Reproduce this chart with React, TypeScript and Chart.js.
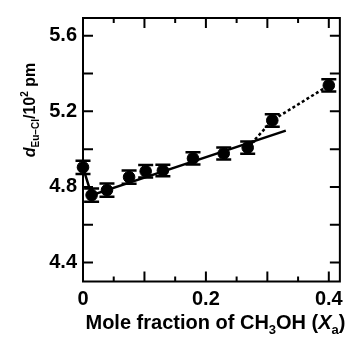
import React, { useEffect, useRef } from "react";
import { Chart, registerables } from "chart.js";

Chart.register(...registerables);

// ---- data ----
const xValues = [0, 0.014, 0.039, 0.075, 0.102, 0.13, 0.179, 0.229, 0.268, 0.308, 0.4];
const yValues = [4.904, 4.757, 4.783, 4.852, 4.883, 4.887, 4.951, 4.977, 5.008, 5.152, 5.337];
const yErrors = [0.035, 0.035, 0.035, 0.035, 0.033, 0.03, 0.032, 0.032, 0.032, 0.033, 0.032];

const solidX = [0, 0.014, 0.33];
const solidY = [4.904, 4.757, 5.098];
const dottedX = [0.268, 0.308, 0.4];
const dottedY = [5.008, 5.152, 5.337];

const xTickValues = [0, 0.05, 0.1, 0.15, 0.2, 0.25, 0.3, 0.35, 0.4];
const xTickLabels = [0, 0.2, 0.4];
const yTickValues = [4.4, 4.6, 4.8, 5.0, 5.2, 5.4, 5.6];
const yTickLabels = [4.4, 4.8, 5.2, 5.6];

const FONT = "'Liberation Sans', Arial, Helvetica, sans-serif";

type Seg = { t: string; size: number; italic?: boolean; shift?: number };

function fontOf(s: Seg) {
  return `${s.italic ? "italic " : ""}bold ${s.size}px ${FONT}`;
}

function drawRich(ctx: CanvasRenderingContext2D, segs: Seg[], cx: number, by: number) {
  const widths = segs.map((s) => {
    ctx.font = fontOf(s);
    return ctx.measureText(s.t).width;
  });
  const total = widths.reduce((a, b) => a + b, 0);
  let x = cx - total / 2;
  segs.forEach((s, i) => {
    ctx.font = fontOf(s);
    ctx.fillText(s.t, x, by + (s.shift || 0));
    x += widths[i];
  });
}

const decorPlugin = {
  id: "decor",
  afterDatasetsDraw(chart: any) {
    const ctx: CanvasRenderingContext2D = chart.ctx;
    const xs = chart.scales.x;
    const ys = chart.scales.y;
    const { left, right, top, bottom } = chart.chartArea;
    ctx.save();
    ctx.strokeStyle = "#000";
    ctx.fillStyle = "#000";
    // error bars
    xValues.forEach((xv, i) => {
      const px = xs.getPixelForValue(xv);
      const pHi = ys.getPixelForValue(yValues[i] + yErrors[i]);
      const pLo = ys.getPixelForValue(yValues[i] - yErrors[i]);
      ctx.lineWidth = 2;
      ctx.beginPath();
      ctx.moveTo(px, pHi);
      ctx.lineTo(px, pLo);
      ctx.stroke();
      ctx.lineWidth = 2.5;
      ctx.beginPath();
      ctx.moveTo(px - 7.5, pHi);
      ctx.lineTo(px + 7.5, pHi);
      ctx.moveTo(px - 7.5, pLo);
      ctx.lineTo(px + 7.5, pLo);
      ctx.stroke();
    });
    // frame
    ctx.lineWidth = 2;
    ctx.strokeRect(left, top, right - left, bottom - top);
    // inward ticks
    ctx.lineWidth = 2;
    ctx.beginPath();
    xs.ticks.forEach((t: any) => {
      const px = xs.getPixelForValue(t.value);
      const major = Math.abs(t.value * 10 - Math.round(t.value * 10)) < 1e-6;
      const len = major ? 10 : 5;
      ctx.moveTo(px, bottom);
      ctx.lineTo(px, bottom - len);
      ctx.moveTo(px, top);
      ctx.lineTo(px, top + len);
    });
    ys.ticks.forEach((t: any) => {
      const py = ys.getPixelForValue(t.value);
      ctx.moveTo(left, py);
      ctx.lineTo(left + 10, py);
      ctx.moveTo(right, py);
      ctx.lineTo(right - 10, py);
    });
    ctx.stroke();
    ctx.restore();
  },
  afterDraw(chart: any) {
    const ctx: CanvasRenderingContext2D = chart.ctx;
    ctx.save();
    ctx.fillStyle = "#000";
    ctx.textBaseline = "alphabetic";
    ctx.textAlign = "left";
    // x title
    drawRich(
      ctx,
      [
        { t: "Mole fraction of CH", size: 20 },
        { t: "3", size: 13, shift: 5 },
        { t: "OH (", size: 20 },
        { t: "X", size: 20, italic: true },
        { t: "a", size: 13, shift: 5 },
        { t: ")", size: 20 },
      ],
      215.5,
      328.5
    );
    // y title
    ctx.translate(35, 110);
    ctx.rotate(-Math.PI / 2);
    drawRich(
      ctx,
      [
        { t: "d", size: 16, italic: true },
        { t: "Eu–Cl", size: 10, shift: 4 },
        { t: "/10", size: 16 },
        { t: "2", size: 10, shift: -7 },
        { t: " pm", size: 16 },
      ],
      0,
      0
    );
    ctx.restore();
  },
};

export default function App() {
  const ref = useRef<HTMLCanvasElement>(null);
  useEffect(() => {
    if (!ref.current) return;
    const chart = new Chart(ref.current, {
      type: "scatter",
      data: {
        datasets: [
          {
            data: xValues.map((x, i) => ({ x, y: yValues[i] })),
            backgroundColor: "#000",
            borderColor: "#000",
            pointRadius: 5.8,
            pointHoverRadius: 5.8,
            showLine: false,
            clip: false,
          } as any,
          {
            data: solidX.map((x, i) => ({ x, y: solidY[i] })),
            showLine: true,
            borderColor: "#000",
            borderWidth: 2.5,
            pointRadius: 0,
            fill: false,
            clip: false,
          } as any,
          {
            data: dottedX.map((x, i) => ({ x, y: dottedY[i] })),
            showLine: true,
            borderColor: "#000",
            borderWidth: 2.5,
            borderDash: [3, 2.5],
            pointRadius: 0,
            fill: false,
            clip: false,
          } as any,
        ],
      },
      options: {
        responsive: false,
        animation: false,
        devicePixelRatio: 1,
        layout: { padding: { top: 13, right: 2.5, left: 0, bottom: 0 } },
        plugins: {
          legend: { display: false },
          tooltip: { enabled: false },
        },
        scales: {
          x: {
            type: "linear",
            min: 0,
            max: 0.418,
            grid: { display: false, drawTicks: false },
            border: { display: false },
            afterBuildTicks: (s: any) => {
              s.ticks = xTickValues.map((v) => ({ value: v }));
            },
            afterFit: (s: any) => {
              s.height = 56.5;
            },
            ticks: {
              autoSkip: false,
              maxRotation: 0,
              padding: 6,
              color: "#000",
              font: { family: FONT, size: 20, weight: "bold" },
              callback: (v: any) => {
                const n = Number(v);
                return xTickLabels.some((l) => Math.abs(l - n) < 1e-6) ? String(Number(n.toFixed(1))) : "";
              },
            },
          },
          y: {
            type: "linear",
            min: 4.3,
            max: 5.6935,
            grid: { display: false, drawTicks: false },
            border: { display: false },
            afterBuildTicks: (s: any) => {
              s.ticks = yTickValues.map((v) => ({ value: v }));
            },
            afterFit: (s: any) => {
              s.width = 83;
            },
            ticks: {
              autoSkip: false,
              padding: 6,
              color: "#000",
              font: { family: FONT, size: 20, weight: "bold" },
              callback: (v: any) => {
                const n = Number(v);
                return yTickLabels.some((l) => Math.abs(l - n) < 1e-6) ? n.toFixed(1) : "";
              },
            },
          },
        },
      },
      plugins: [decorPlugin],
    } as any);
    return () => chart.destroy();
  }, []);
  return (
    <div style={{ position: "fixed", left: 0, top: 0, width: 349, height: 338, background: "#fff" }}>
      <canvas ref={ref} width={349} height={338} />
    </div>
  );
}
